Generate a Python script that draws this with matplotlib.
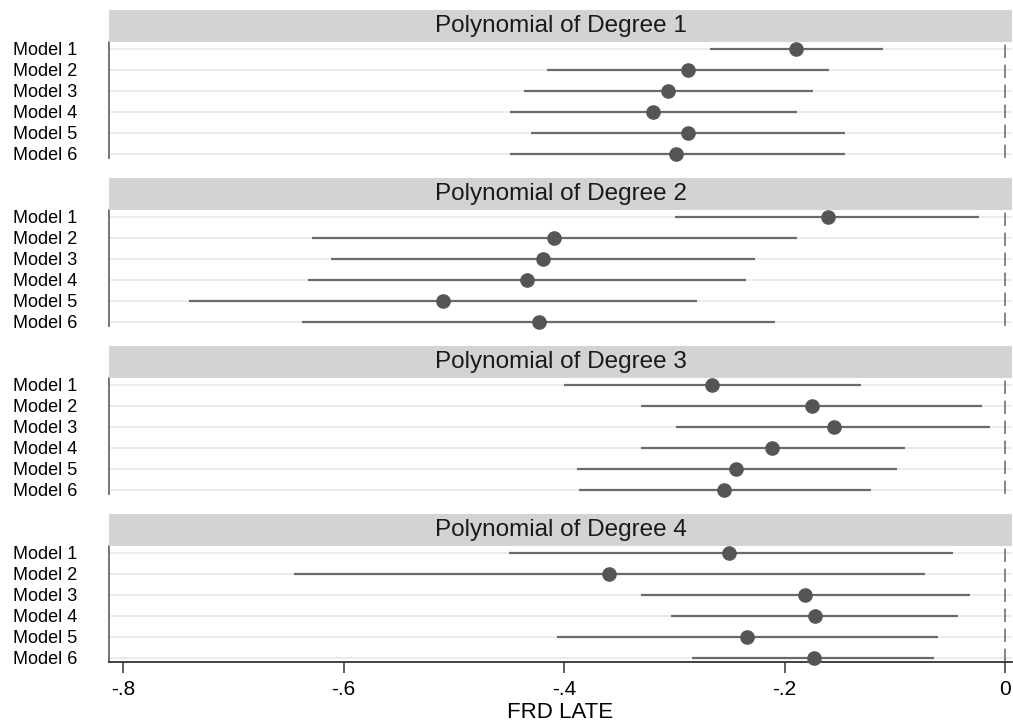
import matplotlib
matplotlib.use("Agg")
import matplotlib.pyplot as plt
from matplotlib.patches import Rectangle
from matplotlib.ticker import FixedLocator, FuncFormatter

plt.rcParams["font.family"] = ["Liberation Sans", "DejaVu Sans"]

models = ["Model 1", "Model 2", "Model 3", "Model 4", "Model 5", "Model 6"]
panel_titles = [
    "Polynomial of Degree 1",
    "Polynomial of Degree 2",
    "Polynomial of Degree 3",
    "Polynomial of Degree 4",
]

# point estimates and 95% CI bounds
deg1_est = [-0.190, -0.288, -0.306, -0.319, -0.288, -0.298]
deg1_lo = [-0.268, -0.415, -0.436, -0.449, -0.430, -0.449]
deg1_hi = [-0.111, -0.160, -0.174, -0.189, -0.145, -0.145]

deg2_est = [-0.161, -0.409, -0.419, -0.434, -0.510, -0.423]
deg2_lo = [-0.299, -0.629, -0.611, -0.632, -0.740, -0.638]
deg2_hi = [-0.024, -0.189, -0.227, -0.235, -0.279, -0.209]

deg3_est = [-0.266, -0.175, -0.155, -0.211, -0.244, -0.255]
deg3_lo = [-0.400, -0.330, -0.298, -0.330, -0.388, -0.386]
deg3_hi = [-0.131, -0.021, -0.014, -0.091, -0.098, -0.122]

deg4_est = [-0.250, -0.359, -0.181, -0.172, -0.234, -0.173]
deg4_lo = [-0.450, -0.645, -0.330, -0.303, -0.406, -0.284]
deg4_hi = [-0.047, -0.073, -0.032, -0.043, -0.061, -0.064]

x_ticks = [-0.8, -0.6, -0.4, -0.2, 0.0]
x_ticklabels = ["-.8", "-.6", "-.4", "-.2", "0"]

panels = [
    (deg1_est, deg1_lo, deg1_hi),
    (deg2_est, deg2_lo, deg2_hi),
    (deg3_est, deg3_lo, deg3_hi),
    (deg4_est, deg4_lo, deg4_hi),
]

W, H = 1013, 725
fig = plt.figure(figsize=(W / 100, H / 100), dpi=100)

ax_left, ax_right = 109, 1012
ax_tops = [42, 210, 378, 546]
ax_h = 116
strip_h = 32

ypos = list(range(1, len(models) + 1))

for i, (title, (est, lo, hi)) in enumerate(zip(panel_titles, panels)):
    top = ax_tops[i]
    ax = fig.add_axes([
        ax_left / W,
        1 - (top + ax_h) / H,
        (ax_right - ax_left) / W,
        ax_h / H,
    ])
    for y in ypos:
        ax.axhline(y, color="#e9e9e9", linewidth=1.2, zorder=0)
    ax.axvline(0, color="#707070", linewidth=1.2, linestyle=(0, (8, 4)), zorder=1)
    ax.hlines(ypos, lo, hi, color="#6a6a6a", linewidth=1.6, zorder=2)
    ax.plot(est, ypos, "o", color="#555555", markersize=9.5, zorder=3,
            clip_on=False)

    ax.set_xlim(-0.8127, 0.0063)
    ax.set_ylim(6.21, 0.67)
    ax.set_yticks(ypos)
    ax.set_yticklabels(models, fontsize=13)
    ax.tick_params(axis="y", length=0, pad=23)

    for s in ["top", "right"]:
        ax.spines[s].set_visible(False)
    ax.spines["left"].set_color("#6a6a6a")
    ax.spines["left"].set_linewidth(1.3)

    if i < len(panels) - 1:
        ax.spines["bottom"].set_visible(False)
        ax.set_xticks([])
    else:
        ax.spines["bottom"].set_color("#333333")
        ax.spines["bottom"].set_linewidth(1.3)
        ax.xaxis.set_major_locator(FixedLocator(x_ticks))
        ax.xaxis.set_major_formatter(
            FuncFormatter(lambda v, p: x_ticklabels[x_ticks.index(round(v, 1))]
                          if round(v, 1) in x_ticks else "")
        )
        ax.tick_params(axis="x", length=8, width=1.2, color="#444444",
                       labelsize=15, pad=5)
        ax.set_xlabel("FRD LATE", fontsize=16, labelpad=2)

    # strip header above the panel
    strip_frac = strip_h / ax_h
    ax.add_patch(Rectangle((0, 1), 1, strip_frac, transform=ax.transAxes,
                           facecolor="#d3d3d3", edgecolor="none",
                           clip_on=False, zorder=4))
    ax.text(0.5, 1 + strip_frac / 2, title, transform=ax.transAxes,
            ha="center", va="center", fontsize=17.5, color="#1a1a1a", zorder=5)

fig.savefig("out.png", dpi=100, facecolor="white")
